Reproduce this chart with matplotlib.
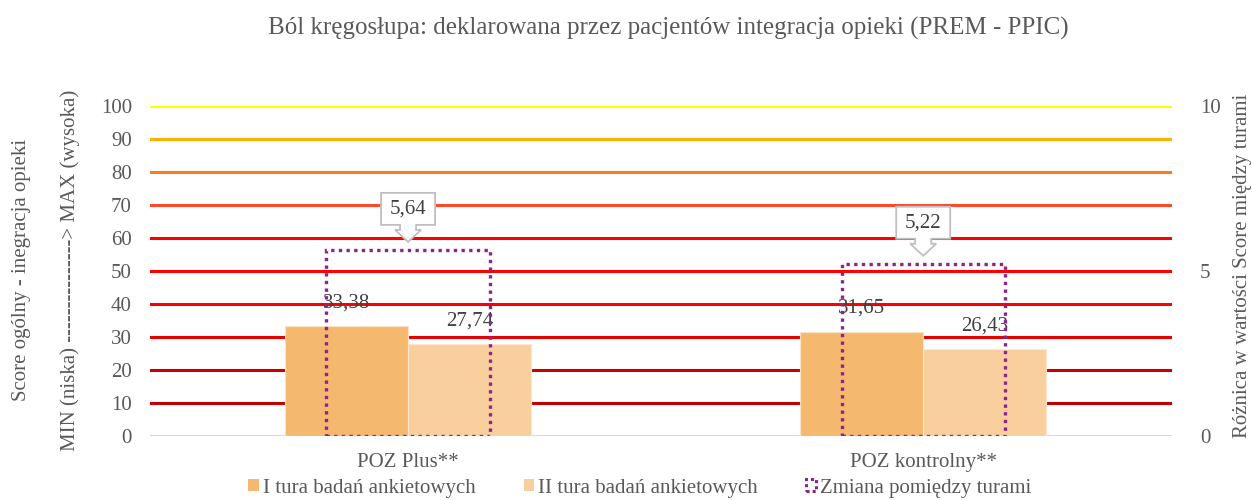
import matplotlib.pyplot as plt
import matplotlib.transforms as mtransforms
from matplotlib.patches import Patch, Polygon
import numpy as np

plt.rcParams['font.family'] = ['Liberation Serif', 'DejaVu Serif']

# dane
kategorie = ['POZ Plus**', 'POZ kontrolny**']
tura1 = [33.38, 31.65]
tura2 = [27.74, 26.43]
zmiana = [5.64, 5.22]
poziomy = [0, 10, 20, 30, 40, 50, 60, 70, 80, 90, 100]
kolory_poziomow = ['#d9d9d9', '#c00000', '#c80000', '#e60000', '#ff0000', '#ff0000',
                   '#ff0000', '#ff4a2a', '#ff7a1e', '#ffb000', '#ffff00']

c1 = '#f5b86f'
c2 = '#f9cf9e'
cz = '#8b2589'
txt = '#404040'
tick_c = '#595959'
fs = 15

fig = plt.figure(figsize=(12.52, 5.0), dpi=100)
ax = fig.add_axes([150 / 1252, 1 - 436 / 500, 1022 / 1252, 330 / 500])
ax2 = ax.twinx()

x = np.arange(len(kategorie))
w = 0.239

# linie poziomów
for lv, col in zip(poziomy, kolory_poziomow):
    ax.axhline(lv, color=col, lw=2.2, zorder=1)

b1 = ax.bar(x - w / 2, tura1, w, color=c1, edgecolor='#fbe3c6', lw=0.8, zorder=2)
b2 = ax.bar(x + w / 2, tura2, w, color=c2, edgecolor='#fde8cf', lw=0.8, zorder=2)

for rects, vals in ((b1, tura1), (b2, tura2)):
    for r, v in zip(rects, vals):
        ax.annotate(f'{v:.2f}'.replace('.', ','), (r.get_x() + r.get_width() / 2, v),
                    xytext=(0, 16.6), textcoords='offset points', ha='center', va='center',
                    fontsize=fs, color=txt, zorder=5)

ax2.bar(x, zmiana, 0.317, facecolor='none', edgecolor=cz, lw=2.4,
        linestyle=(0, (1, 1.3)), zorder=3)

# objaśnienia ze strzałką
px = 1 / 100
shape = [(0, 0), (13, 12), (8, 12), (8, 17), (27, 17), (27, 49), (-27, 49),
         (-27, 17), (-8, 17), (-8, 12), (-13, 12)]
for xi, v in zip(x, zmiana):
    trans = fig.dpi_scale_trans + mtransforms.ScaledTranslation(xi, v, ax2.transData)
    verts = [(a * px, (b + 8) * px) for a, b in shape]
    ax2.add_patch(Polygon(verts, closed=True, transform=trans, facecolor='white',
                          edgecolor='#bfbfbf', lw=1.3, zorder=6, clip_on=False))
    ax2.text(0, (33 + 8) * px, f'{v:.2f}'.replace('.', ','), transform=trans,
             ha='center', va='center', fontsize=fs, color=txt, zorder=7)

ax.set_xlim(-0.501, 1.483)
ax.set_ylim(0, 100)
ax2.set_ylim(0, 10)
ax.set_yticks(range(0, 101, 10))
ax2.set_yticks([0, 5, 10])
ax.set_xticks(x)
ax.set_xticklabels(kategorie)
for a in (ax, ax2):
    for s in a.spines.values():
        s.set_visible(False)
ax.tick_params(axis='y', length=0, pad=13, labelsize=fs, labelcolor=tick_c)
ax2.tick_params(axis='y', length=0, pad=20, labelsize=fs, labelcolor=tick_c)
ax.tick_params(axis='x', length=0, pad=12, labelsize=fs, labelcolor=tick_c)

fig.text(668 / 1252, 1 - 28 / 500, 'Ból kręgosłupa: deklarowana przez pacjentów integracja opieki (PREM - PPIC)',
         ha='center', va='center', fontsize=18, color=tick_c)
fig.text(22 / 1252, 1 - 270 / 500, 'Score ogólny - inegracja opieki', rotation=90,
         ha='center', va='center', fontsize=fs, color=tick_c)
fig.text(70 / 1252, 1 - 270 / 500, 'MIN (niska) ---------------> MAX (wysoka)', rotation=90,
         ha='center', va='center', fontsize=fs, color=tick_c)
fig.text(1243 / 1252, 1 - 266 / 500, 'Różnica w wartości Score między turami', rotation=90,
         ha='center', va='center', fontsize=fs, color=tick_c)

handles = [Patch(facecolor=c1, edgecolor='none'),
           Patch(facecolor=c2, edgecolor='none'),
           Patch(facecolor='none', edgecolor=cz, lw=2.2, linestyle=(0, (1, 1)))]
labels = ['I tura badań ankietowych', 'II tura badań ankietowych', 'Zmiana pomiędzy turami']
fig.legend(handles, labels, loc='center', bbox_to_anchor=(640 / 1252, 1 - 488 / 500), ncol=3,
           frameon=False, fontsize=fs, handlelength=0.5, handleheight=0.5, handletextpad=0.2,
           columnspacing=2.3, labelcolor=tick_c, borderpad=0)

fig.savefig('out.png', dpi=100)
